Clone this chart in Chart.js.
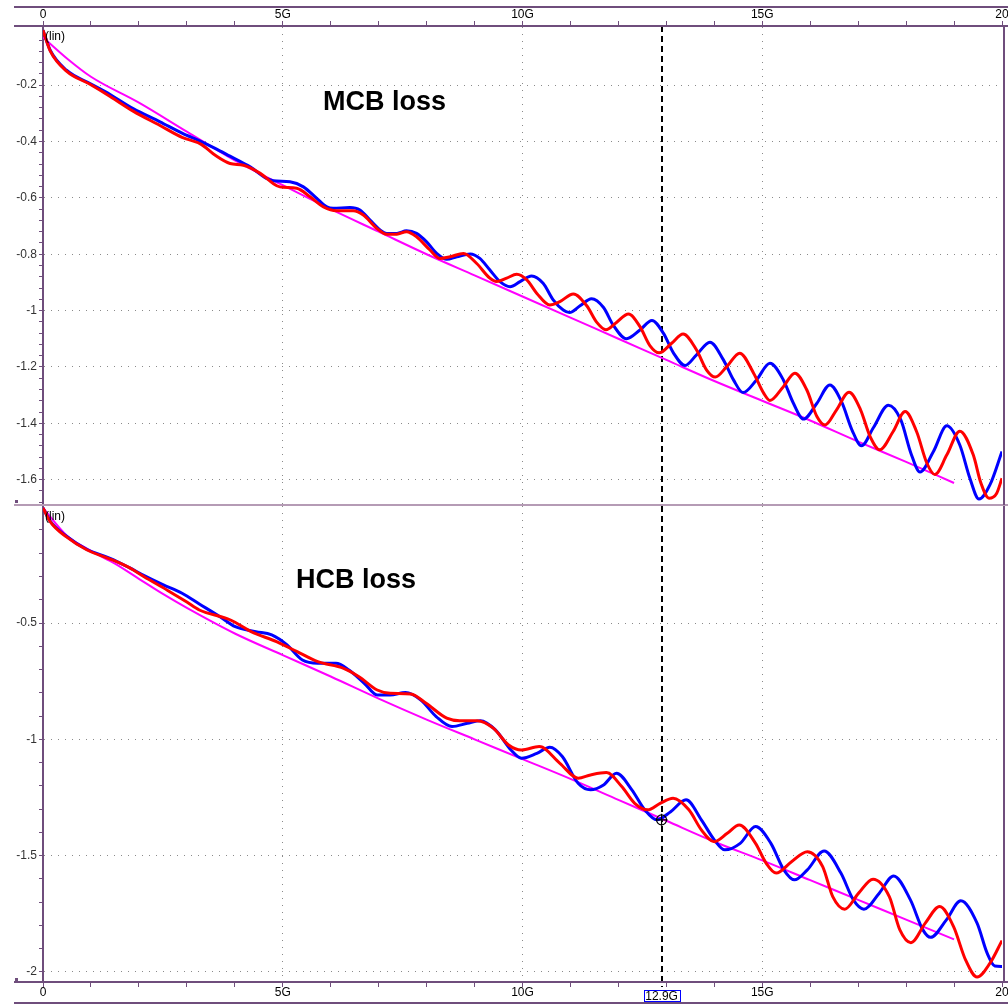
<!DOCTYPE html>
<html>
<head>
<meta charset="utf-8">
<title>MCB / HCB loss</title>
<script src="https://cdn.jsdelivr.net/npm/chart.js@4/dist/chart.umd.min.js"></script>
<style>
  html, body { margin: 0; padding: 0; background: #fff; }
  #wrap { position: relative; width: 1008px; height: 1004px; overflow: hidden; }
  #wrap canvas { position: absolute; left: 0; }
  #topChart { top: 0; }
  #botChart { top: 506px; }
</style>
</head>
<body>
<div id="wrap">
  <canvas id="topChart" width="1008" height="506"></canvas>
  <canvas id="botChart" width="1008" height="498"></canvas>
</div>
<script>
// Frequency axis (GHz) ticks and labels
const freqTicks = [0, 5, 10, 15, 20];
const freqLabels = ['0', '5G', '10G', '15G', '20'];
const mcbTicks = [-0.2, -0.4, -0.6, -0.8, -1, -1.2, -1.4, -1.6];
const hcbTicks = [-0.5, -1, -1.5, -2];

// Cursor
const cursorFreq = 12.9;
const cursorLabel = '12.9G';
const markerLoss = -1.346;

// MCB loss (top panel)
const mcbBlueFreq = [0, 0.15, 0.49, 0.98, 1.4, 1.88, 2.44, 2.9, 3.3, 3.6, 3.9, 4.32, 4.66, 4.8, 5.15, 5.43, 5.71, 5.92, 6.05, 6.4, 6.61, 6.82, 7.03, 7.17, 7.38, 7.58, 7.79, 8.0, 8.21, 8.42, 8.63, 8.91, 9.11, 9.32, 9.53, 9.74, 9.95, 10.19, 10.43, 10.64, 10.85, 10.98, 11.2, 11.44, 11.69, 11.89, 12.17, 12.45, 12.7, 12.94, 13.15, 13.39, 13.63, 13.91, 14.19, 14.4, 14.6, 14.88, 15.16, 15.44, 15.65, 15.86, 16.14, 16.41, 16.66, 16.87, 17.07, 17.32, 17.63, 17.89, 18.1, 18.29, 18.57, 18.85, 19.12, 19.33, 19.52, 19.75, 20];
const mcbBlueLoss = [-0.005, -0.076, -0.147, -0.194, -0.233, -0.283, -0.33, -0.37, -0.4, -0.425, -0.452, -0.49, -0.531, -0.539, -0.543, -0.561, -0.602, -0.632, -0.637, -0.634, -0.643, -0.679, -0.714, -0.726, -0.726, -0.717, -0.726, -0.756, -0.797, -0.818, -0.809, -0.799, -0.815, -0.856, -0.897, -0.915, -0.897, -0.877, -0.903, -0.962, -0.998, -1.007, -0.983, -0.958, -0.989, -1.051, -1.1, -1.069, -1.035, -1.081, -1.151, -1.195, -1.157, -1.112, -1.175, -1.246, -1.291, -1.246, -1.187, -1.246, -1.329, -1.385, -1.329, -1.264, -1.326, -1.423, -1.48, -1.415, -1.336, -1.388, -1.506, -1.573, -1.5, -1.409, -1.477, -1.595, -1.669, -1.618, -1.5];

const mcbRedFreq = [0, 0.15, 0.49, 0.98, 1.4, 1.88, 2.44, 2.9, 3.3, 3.6, 3.9, 4.18, 4.53, 4.8, 4.94, 5.29, 5.57, 5.85, 6.12, 6.47, 6.68, 6.96, 7.17, 7.38, 7.58, 7.79, 8.07, 8.28, 8.49, 8.77, 9.04, 9.32, 9.46, 9.67, 9.88, 10.09, 10.3, 10.57, 10.78, 11.06, 11.34, 11.55, 11.74, 11.96, 12.21, 12.45, 12.66, 12.85, 13.11, 13.35, 13.63, 13.84, 14.02, 14.26, 14.53, 14.82, 15.03, 15.16, 15.44, 15.68, 15.93, 16.14, 16.31, 16.55, 16.81, 17.05, 17.25, 17.45, 17.73, 17.98, 18.22, 18.43, 18.6, 18.85, 19.12, 19.4, 19.56, 19.73, 19.89, 20];
const mcbRedLoss = [-0.005, -0.078, -0.15, -0.197, -0.24, -0.292, -0.343, -0.385, -0.41, -0.45, -0.478, -0.484, -0.513, -0.549, -0.561, -0.566, -0.596, -0.632, -0.646, -0.646, -0.661, -0.708, -0.729, -0.729, -0.72, -0.738, -0.785, -0.815, -0.809, -0.797, -0.832, -0.885, -0.897, -0.885, -0.871, -0.891, -0.939, -0.98, -0.968, -0.941, -0.983, -1.042, -1.068, -1.042, -1.012, -1.057, -1.125, -1.15, -1.116, -1.083, -1.14, -1.211, -1.236, -1.199, -1.151, -1.222, -1.293, -1.319, -1.27, -1.222, -1.282, -1.376, -1.406, -1.352, -1.29, -1.352, -1.447, -1.494, -1.429, -1.358, -1.43, -1.54, -1.582, -1.512, -1.428, -1.512, -1.612, -1.666, -1.648, -1.595];

const mcbFitFreq = [0, 0.5, 1, 2, 3, 4, 5, 6, 7, 8, 9, 10, 11, 12, 13, 14, 15, 16, 17, 18, 19];
const mcbFitLoss = [-0.03, -0.105, -0.17, -0.262, -0.365, -0.467, -0.555, -0.64, -0.72, -0.8, -0.875, -0.95, -1.025, -1.1, -1.175, -1.25, -1.32, -1.39, -1.465, -1.537, -1.612];

// HCB loss (bottom panel)
const hcbBlueFreq = [0, 0.15, 0.49, 0.91, 1.4, 1.8, 2.1, 2.5, 2.9, 3.26, 3.69, 4.01, 4.44, 4.77, 5.09, 5.41, 5.73, 6.11, 6.38, 6.7, 6.97, 7.24, 7.56, 7.88, 8.2, 8.53, 8.85, 9.12, 9.44, 9.76, 9.98, 10.3, 10.57, 10.83, 11.16, 11.42, 11.69, 11.96, 12.28, 12.55, 12.8, 13.09, 13.41, 13.73, 14.0, 14.22, 14.54, 14.86, 15.18, 15.45, 15.67, 15.94, 16.29, 16.64, 16.9, 17.12, 17.44, 17.74, 18.09, 18.35, 18.51, 18.84, 19.14, 19.48, 19.69, 19.85, 20];
const hcbBlueLoss = [-0.005, -0.062, -0.127, -0.183, -0.222, -0.262, -0.295, -0.335, -0.372, -0.418, -0.473, -0.516, -0.537, -0.551, -0.594, -0.659, -0.673, -0.673, -0.702, -0.759, -0.809, -0.809, -0.799, -0.831, -0.902, -0.945, -0.931, -0.92, -0.96, -1.046, -1.081, -1.06, -1.034, -1.074, -1.189, -1.217, -1.196, -1.146, -1.217, -1.303, -1.346, -1.311, -1.26, -1.346, -1.432, -1.475, -1.447, -1.375, -1.447, -1.561, -1.604, -1.561, -1.48, -1.575, -1.69, -1.73, -1.661, -1.587, -1.69, -1.819, -1.851, -1.776, -1.694, -1.79, -1.919, -1.974, -1.976];

const hcbRedFreq = [0, 0.15, 0.49, 0.91, 1.4, 1.8, 2.1, 2.6, 3.0, 3.26, 3.91, 4.34, 4.87, 5.3, 5.73, 6.27, 6.59, 6.97, 7.24, 7.67, 7.99, 8.42, 8.69, 9.06, 9.39, 9.71, 9.98, 10.35, 10.78, 11.16, 11.42, 11.75, 12.07, 12.34, 12.61, 12.87, 13.14, 13.47, 13.73, 14.0, 14.27, 14.52, 14.86, 15.08, 15.29, 15.61, 15.94, 16.26, 16.47, 16.72, 17.01, 17.31, 17.65, 17.87, 18.1, 18.4, 18.7, 18.99, 19.24, 19.48, 19.75, 20];
const hcbRedLoss = [-0.005, -0.064, -0.13, -0.185, -0.225, -0.262, -0.3, -0.36, -0.41, -0.444, -0.487, -0.537, -0.58, -0.623, -0.666, -0.695, -0.731, -0.788, -0.802, -0.805, -0.845, -0.909, -0.92, -0.92, -0.952, -1.024, -1.046, -1.031, -1.103, -1.167, -1.153, -1.143, -1.203, -1.275, -1.303, -1.275, -1.253, -1.303, -1.389, -1.44, -1.404, -1.368, -1.447, -1.532, -1.575, -1.526, -1.483, -1.547, -1.676, -1.73, -1.661, -1.601, -1.676, -1.819, -1.874, -1.79, -1.719, -1.805, -1.948, -2.022, -1.962, -1.865];

const hcbFitFreq = [0, 0.5, 1, 1.5, 2, 2.5, 3, 4, 5, 6, 7, 8, 9, 10, 11, 12, 13, 14, 15, 16, 17, 18, 19];
const hcbFitLoss = [-0.005, -0.125, -0.19, -0.245, -0.31, -0.375, -0.435, -0.545, -0.638, -0.73, -0.825, -0.915, -1.0, -1.085, -1.17, -1.26, -1.35, -1.44, -1.52, -1.605, -1.69, -1.775, -1.86];

const PURPLE = '#6f4e7c';
const DIVIDER = '#b59bb5';
const GRID = '#8a8a8a';
const FONT = "'Liberation Sans', Arial, sans-serif";
const tickFont = { family: FONT, size: 12, lineHeight: 1 };

function near(list, v) {
    return list.findIndex(t => Math.abs(t - v) < 1e-6);
}

// Minor tick values: start, step, count
function stepTicks(step, from, count) {
    const out = [];
    for (let k = 0; k < count; k++) out.push(+(from + k * step).toFixed(3));
    return out;
}

function toPoints(freq, loss) {
    return freq.map((f, i) => ({ x: f, y: loss[i] }));
}

function curve(freq, loss, color, width) {
    return {
        data: toPoints(freq, loss),
        borderColor: color,
        borderWidth: width,
        pointRadius: 0,
        fill: false,
        cubicInterpolationMode: 'monotone'
    };
}

function freqScale(position, height) {
    const ticks = stepTicks(1, 0, 21);
    return {
        type: 'linear', position: position, min: 0, max: 20,
        afterBuildTicks: s => { s.ticks = ticks.map(v => ({ value: v })); },
        afterFit: s => { s.height = height; s.paddingLeft = 0; s.paddingRight = 0; },
        ticks: {
            autoSkip: false, maxRotation: 0, padding: 0, color: '#000', font: tickFont,
            callback: v => { const i = near(freqTicks, v); return i < 0 ? '' : freqLabels[i]; }
        },
        grid: {
            tickLength: 5, tickColor: PURPLE, tickWidth: 1, lineWidth: 1,
            color: c => (c.tick && c.tick.value > 0 && c.tick.value < 20 && near(freqTicks, c.tick.value) >= 0) ? GRID : 'rgba(0,0,0,0)'
        },
        border: { color: PURPLE, width: 2, dash: [1, 6] }
    };
}

function lossScale(min, max, majors, minors) {
    return {
        type: 'linear', position: 'left', min: min, max: max,
        afterBuildTicks: s => { s.ticks = minors.map(v => ({ value: v })); },
        afterFit: s => { s.width = 43; s.paddingTop = 0; s.paddingBottom = 0; },
        ticks: {
            autoSkip: false, padding: 2, color: '#333', font: tickFont,
            callback: v => { const i = near(majors, v); return i < 0 ? '' : String(majors[i]); }
        },
        grid: {
            tickLength: 4, tickColor: PURPLE, tickWidth: 1, lineWidth: 1,
            color: c => (c.tick && near(majors, c.tick.value) >= 0) ? GRID : 'rgba(0,0,0,0)'
        },
        border: { color: PURPLE, width: 2, dash: [1, 6] }
    };
}

// Frame lines, cursor, titles
const decor = {
    id: 'decor',
    beforeDatasetsDraw(chart, args, o) {
        const { ctx, chartArea: a, scales } = chart;
        const x = Math.round(scales.x.getPixelForValue(cursorFreq));
        ctx.save();
        ctx.strokeStyle = '#000';
        ctx.lineWidth = 2;
        ctx.setLineDash([6, 4]);
        ctx.beginPath();
        ctx.moveTo(x, a.top);
        ctx.lineTo(x, a.bottom + o.cursorExtra);
        ctx.stroke();
        ctx.restore();
    },
    afterDraw(chart, args, o) {
        const { ctx, chartArea: a, scales } = chart;
        ctx.save();
        o.rules.forEach(r => {
            ctx.strokeStyle = r.color;
            ctx.lineWidth = r.width;
            ctx.beginPath();
            ctx.moveTo(14, r.y);
            ctx.lineTo(chart.width, r.y);
            ctx.stroke();
        });
        ctx.strokeStyle = PURPLE;
        ctx.lineWidth = 2;
        ctx.beginPath();
        ctx.moveTo(a.right + 2, a.top);
        ctx.lineTo(a.right + 2, a.bottom);
        ctx.stroke();

        ctx.fillStyle = PURPLE;
        ctx.fillRect(15, o.squareY, 3, 3);

        ctx.fillStyle = '#000';
        ctx.font = '12px ' + FONT;
        ctx.textBaseline = 'top';
        ctx.fillText('(lin)', a.left + 2, a.top + 5);

        ctx.font = 'bold 27px ' + FONT;
        ctx.textBaseline = 'alphabetic';
        ctx.fillText(o.title, o.titleX, o.titleY);

        if (o.cursorBox) {
            const x = scales.x.getPixelForValue(cursorFreq);
            ctx.strokeStyle = '#0000ff';
            ctx.lineWidth = 1;
            ctx.strokeRect(Math.round(x - 18) + 0.5, a.bottom + 8.5, 36, 11);
            ctx.fillStyle = '#000';
            ctx.font = '12px ' + FONT;
            ctx.textAlign = 'center';
            ctx.textBaseline = 'middle';
            ctx.fillText(cursorLabel, x, a.bottom + 14.5);
        }
        ctx.restore();
    }
};

function baseOptions(scales, padding, decorOpts) {
    return {
        responsive: false,
        animation: false,
        devicePixelRatio: 1,
        layout: { autoPadding: false, padding: padding },
        scales: scales,
        plugins: {
            legend: { display: false },
            tooltip: { enabled: false },
            decor: decorOpts
        }
    };
}

new Chart(document.getElementById('topChart'), {
    type: 'line',
    data: {
        datasets: [
            curve(mcbRedFreq, mcbRedLoss, '#ff0000', 3),
            curve(mcbBlueFreq, mcbBlueLoss, '#0000ff', 3),
            curve(mcbFitFreq, mcbFitLoss, '#ff00ff', 2)
        ]
    },
    options: baseOptions(
        {
            x: freqScale('top', 19),
            y: lossScale(-1.69, 0.01, mcbTicks, stepTicks(-0.04, -0.04, 42))
        },
        { top: 7, bottom: 1, left: 0, right: 6 },
        {
            rules: [
                { y: 7, width: 2, color: PURPLE },
                { y: 26, width: 2, color: PURPLE },
                { y: 505, width: 2, color: DIVIDER }
            ],
            squareY: 500, title: 'MCB loss', titleX: 323, titleY: 110,
            cursorBox: false, cursorExtra: 0
        }
    ),
    plugins: [decor]
});

new Chart(document.getElementById('botChart'), {
    type: 'line',
    data: {
        datasets: [
            {
                data: [{ x: cursorFreq, y: markerLoss }], showLine: false,
                pointStyle: 'circle', pointRadius: 5, pointBorderWidth: 1.2,
                pointBorderColor: '#000', pointBackgroundColor: 'rgba(0,0,0,0)'
            },
            {
                data: [{ x: cursorFreq, y: markerLoss }], showLine: false,
                pointStyle: 'cross', pointRadius: 6, pointBorderWidth: 1.2,
                pointBorderColor: '#000'
            },
            curve(hcbRedFreq, hcbRedLoss, '#ff0000', 3),
            curve(hcbBlueFreq, hcbBlueLoss, '#0000ff', 3),
            curve(hcbFitFreq, hcbFitLoss, '#ff00ff', 2)
        ]
    },
    options: baseOptions(
        {
            x: freqScale('bottom', 20),
            y: lossScale(-2.043, 0.003, hcbTicks, stepTicks(-0.1, -0.1, 20))
        },
        { top: 0, bottom: 2, left: 0, right: 6 },
        {
            rules: [
                { y: 476, width: 2, color: PURPLE },
                { y: 497, width: 2, color: PURPLE }
            ],
            squareY: 472, title: 'HCB loss', titleX: 296, titleY: 82,
            cursorBox: true, cursorExtra: 5
        }
    ),
    plugins: [decor]
});
</script>
</body>
</html>
